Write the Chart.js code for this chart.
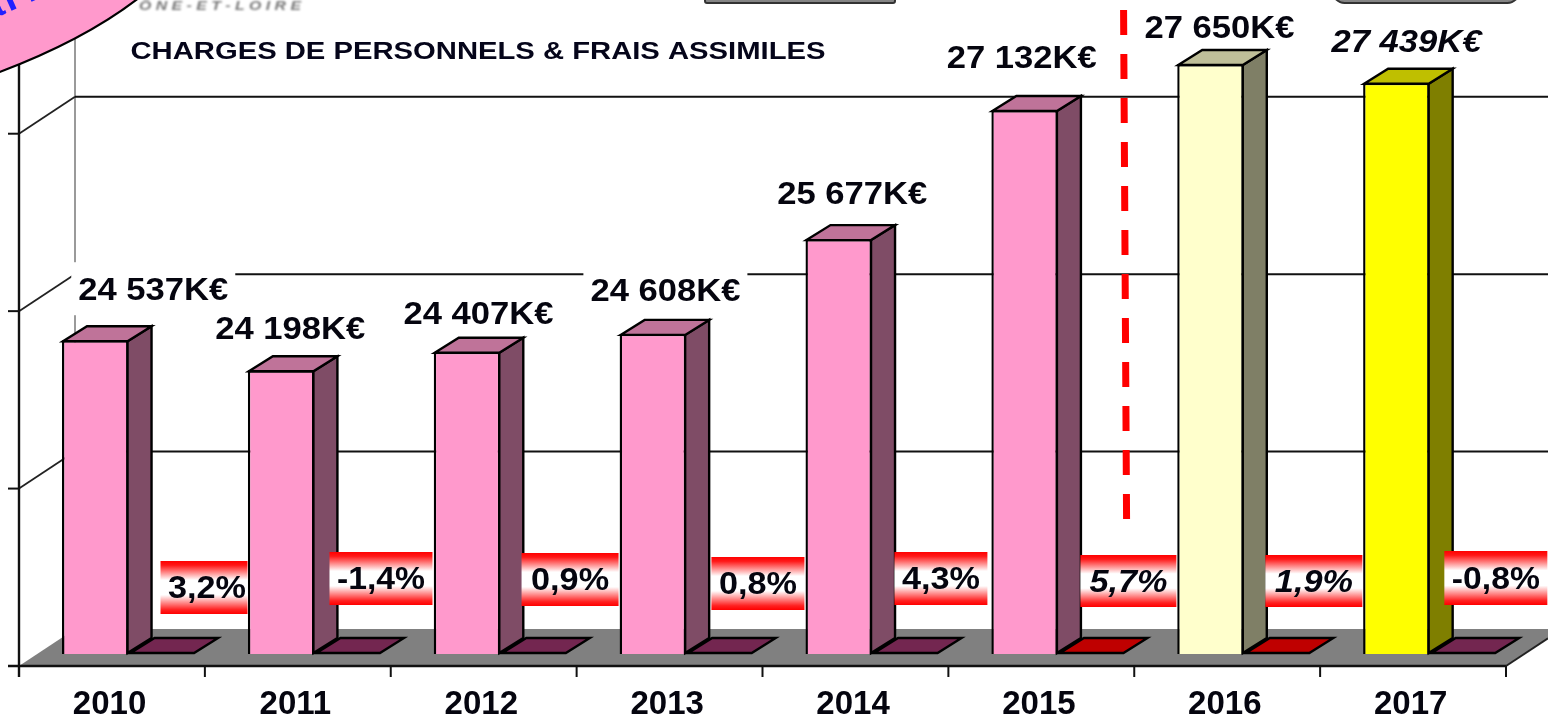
<!DOCTYPE html>
<html lang="fr">
<head>
<meta charset="utf-8">
<title>Charges de personnels & frais assimilés</title>
<script src="https://cdn.jsdelivr.net/npm/chart.js@4/dist/chart.umd.min.js"></script>
<style>
html,body{margin:0;padding:0;background:#fff;overflow:hidden}
canvas{display:block;filter:blur(0.5px)}
</style>
</head>
<body>
<canvas id="c" width="1548" height="717"></canvas>
<script>
const years = ['2010','2011','2012','2013','2014','2015','2016','2017'];
const charges = [24537,24198,24407,24608,25677,27132,27650,27439];
const variations = [3.2,-1.4,0.9,0.8,4.3,5.7,1.9,-0.8];
const gridValues = [21000,23000,25000,27000];
const chartTitle = 'CHARGES DE PERSONNELS & FRAIS ASSIMILES';
const logoText = 'Ô N E - E T - L O I R E';

const FONT = '"Liberation Sans", Arial, sans-serif';
const frontColors = ['#FF99CC','#FF99CC','#FF99CC','#FF99CC','#FF99CC','#FF99CC','#FFFFCC','#FFFF00'];
const sideColors  = ['#7F4C66','#7F4C66','#7F4C66','#7F4C66','#7F4C66','#7F4C66','#7F7F66','#7F7F00'];
const topColors   = ['#BF7399','#BF7399','#BF7399','#BF7399','#BF7399','#BF7399','#BFBF99','#BFBF00'];
const flatColors  = ['#732650','#732650','#732650','#732650','#732650','#BF0000','#BF0000','#732650'];
const italicBars  = [false,false,false,false,false,false,false,true];
const italicPct   = [false,false,false,false,false,true,true,false];
// label anchors, relative to the top centre of each bar
const labelOffsetX = [58,9,11.5,12.5,13.5,-3,9,10];
const labelOffsetY = [-49,-40,-37,-42,-44,-51,-35,-40];
// % ribbons, relative to the flat bar centre and the axis base
const ribbonLeft  = [-1.3,-18.2,-12,-8,-10.9,-10.8,-11.7,-18.6];
const ribbonWidth = [87,103,97,93,93,96,97,103];
const ribbonTop   = [-93,-102,-101,-97,-102,-99,-99,-103];
const ribbonHeight= [53,53,53,53,53,52,52,54];

const DX = 24, DY = 15;            // bar depth
const WALL_DX = 56, WALL_DY = 25, FRONT_DY = 12; // floor depth

function fmtK(v){const s=String(v);return s.slice(0,-3)+' '+s.slice(-3)+'K€';}
function fmtPct(v){return v.toFixed(1).replace('.',',')+'%';}
function text(ctx,str,cx,cy,px,targetW,italic,color){
  ctx.save();
  ctx.font=(italic?'italic ':'')+'bold '+px+'px '+FONT;
  ctx.fillStyle=color||'#05050f';
  ctx.textAlign='center';ctx.textBaseline='middle';
  const w=ctx.measureText(str).width;
  ctx.translate(cx,cy);ctx.scale(targetW/w,1);
  ctx.fillText(str,0,0);
  ctx.restore();
}
function poly(ctx,pts,fill,stroke,lw){
  ctx.beginPath();
  pts.forEach((p,i)=>i?ctx.lineTo(p[0],p[1]):ctx.moveTo(p[0],p[1]));
  ctx.closePath();
  if(fill){ctx.fillStyle=fill;ctx.fill();}
  if(stroke){ctx.strokeStyle=stroke;ctx.lineWidth=lw||2;ctx.lineJoin='miter';ctx.stroke();}
}
function line(ctx,x0,y0,x1,y1,color,lw){
  ctx.beginPath();ctx.moveTo(x0,y0);ctx.lineTo(x1,y1);
  ctx.strokeStyle=color;ctx.lineWidth=lw;ctx.stroke();
}

const scene = {
  id:'scene',
  beforeDatasetsDraw(chart){
    const {ctx,scales:{x,y}}=chart, W=chart.width;
    const band=x.getPixelForValue(1)-x.getPixelForValue(0);
    const axisLeft=x.getPixelForValue(0)-band/2-16.6;
    const axisRight=axisLeft+band*years.length;
    const base=y.getPixelForValue(gridValues[0]);
    const frontY=base+FRONT_DY, backY=base-WALL_DY;
    ctx.save();
    line(ctx,axisLeft+WALL_DX,0,axisLeft+WALL_DX,backY,'#9a9a9a',2);
    poly(ctx,[[axisLeft,frontY],[axisLeft+WALL_DX,backY],[W+10,backY],[W+10,frontY-(W+10-axisRight)*0.66],[axisRight,frontY]],'#808080');
    gridValues.forEach((v,i)=>{
      const py=y.getPixelForValue(v);
      if(i>0){
        line(ctx,axisLeft+WALL_DX,py-WALL_DY,W,py-WALL_DY,'#111',2);
        line(ctx,axisLeft,py+FRONT_DY,axisLeft+WALL_DX,py-WALL_DY,'#222',1.8);
      }
      line(ctx,axisLeft-11,py+FRONT_DY,axisLeft,py+FRONT_DY,'#111',2);
    });
    // knock-outs behind the two labels that cross the grid
    const m=chart.getDatasetMeta(0);
    [0,3].forEach(i=>{
      const el=m.data[i],cx=el.x+labelOffsetX[i],cy=el.y+labelOffsetY[i]-3;
      ctx.fillStyle='#fff';ctx.fillRect(cx-82,cy-26,164,53);
    });
    line(ctx,axisLeft,0,axisLeft,frontY+11,'#111',2.4);
    line(ctx,axisLeft-11,frontY,axisRight,frontY,'#111',2.4);
    line(ctx,axisRight,frontY,W,frontY-(W-axisRight)*0.66,'#222',2);
    for(let i=1;i<=years.length;i++){
      const tx=axisLeft+band*i;
      line(ctx,tx,frontY,tx,frontY+11,'#111',2);
    }
    ctx.restore();
  },
  afterDatasetsDraw(chart){
    const {ctx,scales:{y}}=chart;
    const base=y.getPixelForValue(gridValues[0]);
    const m0=chart.getDatasetMeta(0), m1=chart.getDatasetMeta(1);
    ctx.save();
    m0.data.forEach((el,i)=>{
      const l=el.x-el.width/2+1,r=el.x+el.width/2-1,t=el.y+1,b=base-1;
      poly(ctx,[[r,t],[r+DX,t-DY],[r+DX,b-DY],[r,b]],sideColors[i],'#000',2.4);
      poly(ctx,[[l,t],[l+DX,t-DY],[r+DX,t-DY],[r,t]],topColors[i],'#000',2.4);
    });
    m1.data.forEach((el,i)=>{
      const l=el.x-el.width/2+2,r=el.x+el.width/2-1,b=base-1;
      poly(ctx,[[l,b],[l+DX,b-DY],[r+DX,b-DY],[r,b]],flatColors[i],'#000',2.4);
    });
    // dashed separator
    const sepX=(m0.data[5].x+m0.data[6].x)/2;
    ctx.beginPath();ctx.setLineDash([25,19]);
    ctx.moveTo(sepX+6,10);ctx.lineTo(sepX+9,520);
    ctx.strokeStyle='#FF0000';ctx.lineWidth=7;ctx.stroke();ctx.setLineDash([]);
    // % ribbons
    m1.data.forEach((el,i)=>{
      const L=el.x+ribbonLeft[i],T=base+ribbonTop[i],Wd=ribbonWidth[i],H=ribbonHeight[i];
      const g=ctx.createLinearGradient(0,T,0,T+H);
      g.addColorStop(0,'#FF0000');g.addColorStop(0.08,'#FF1818');g.addColorStop(0.36,'#FFFFFF');
      g.addColorStop(0.64,'#FFFFFF');g.addColorStop(0.92,'#FF2020');g.addColorStop(1,'#FF0000');
      ctx.fillStyle=g;ctx.fillRect(L,T,Wd,H);
      const str=fmtPct(variations[i]);
      const tw=(str.length===5?88:78);
      text(ctx,str,L+Wd/2+(i===0?3:0),T+H/2+2,32,tw,italicPct[i]);
    });
    // value labels
    m0.data.forEach((el,i)=>{
      text(ctx,fmtK(charges[i]),el.x+labelOffsetX[i],el.y+labelOffsetY[i],32,150,italicBars[i]);
    });
    // title
    text(ctx,chartTitle,478,52,24,695,false,'#05051a');
    // blurred logo caption
    ctx.save();ctx.filter='blur(1px)';
    text(ctx,logoText,220,7,12,162,true,'#777');
    ctx.restore();
    // cropped shapes on the top edge
    ctx.fillStyle='#858585';ctx.strokeStyle='#333';ctx.lineWidth=2;
    ctx.beginPath();ctx.roundRect(705,-20,190,23,2);ctx.fill();ctx.stroke();
    ctx.beginPath();ctx.roundRect(1333,-20,186,23,18);ctx.fill();ctx.stroke();
    // pink bubble in the corner
    ctx.beginPath();ctx.moveTo(-3,73);ctx.quadraticCurveTo(85,40,140,-3);ctx.lineTo(-3,-3);ctx.closePath();
    ctx.fillStyle='#FF99CC';ctx.fill();
    ctx.beginPath();ctx.moveTo(-3,73);ctx.quadraticCurveTo(85,40,140,-3);
    ctx.strokeStyle='#000';ctx.lineWidth=2.2;ctx.stroke();
    ctx.save();ctx.beginPath();ctx.rect(0,0,140,60);ctx.clip();
    ctx.translate(9,12);ctx.rotate(-0.42);
    ctx.font='bold 40px '+FONT;ctx.fillStyle='#2020FF';ctx.textBaseline='alphabetic';
    ctx.textAlign='right';ctx.fillText('a',-3,0);
    ctx.textAlign='left';ctx.fillText('i',0,0);ctx.fillText('r',22,0);
    ctx.restore();
    ctx.restore();
  }
};

new Chart(document.getElementById('c'),{
  type:'bar',
  data:{
    labels:years,
    datasets:[
      {label:'Charges de personnels',data:charges,backgroundColor:frontColors,borderColor:'#000',borderWidth:2.4,borderSkipped:false},
      {label:'Variation',data:variations,backgroundColor:flatColors,borderWidth:0}
    ]
  },
  options:{
    responsive:false,animation:false,
    layout:{padding:{left:35.6,right:25.4,top:33,bottom:0}},
    datasets:{bar:{categoryPercentage:0.716,barPercentage:1}},
    plugins:{legend:{display:false},title:{display:false},tooltip:{enabled:false}},
    scales:{
      x:{
        grid:{display:false},border:{display:false},
        afterFit(s){s.height=63;},
        ticks:{autoSkip:false,maxRotation:0,minRotation:0,padding:23,labelOffset:-19,
          color:'#05050f',font:{family:FONT,weight:'bold',size:33}}
      },
      y:{display:false,min:gridValues[0],max:28000}
    }
  },
  plugins:[scene]
});
</script>
</body>
</html>
